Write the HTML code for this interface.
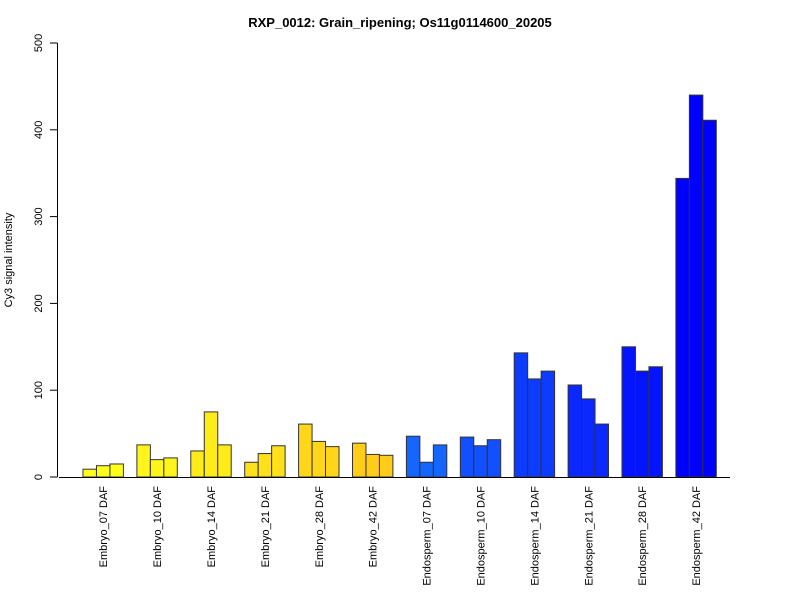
<!DOCTYPE html>
<html><head><meta charset="utf-8"><style>
body{margin:0;background:#fff;font-family:"Liberation Sans",Arial,sans-serif}
</style></head><body>
<svg id="c" width="800" height="600" xmlns="http://www.w3.org/2000/svg">
<text x="400" y="27" text-anchor="middle" font-size="13" font-weight="bold">RXP_0012: Grain_ripening; Os11g0114600_20205</text>
<text transform="translate(12,260) rotate(-90)" text-anchor="middle" font-size="11">Cy3 signal intensity</text>
<g id="bars"></g><g id="axes"></g>
</svg>
<script>
const categories=["Embryo_07 DAF","Embryo_10 DAF","Embryo_14 DAF","Embryo_21 DAF","Embryo_28 DAF","Embryo_42 DAF","Endosperm_07 DAF","Endosperm_10 DAF","Endosperm_14 DAF","Endosperm_21 DAF","Endosperm_28 DAF","Endosperm_42 DAF"];
const rep1=[9,37,30,17,61,39,47,46,143,106,150,344];
const rep2=[13,20,75,27,41,26,17,36,113,90,122,440];
const rep3=[15,22,37,36,35,25,37,43,122,61,127,411];
const colors=["#FFFF1A","#FFF51A","#FFEB1A","#FFE01A","#FFD61A","#FFCC1A","#1466FF","#1250FF","#0E3CFF","#0A28FF","#0514FF","#0000FF"];
const yTicks=[0,100,200,300,400,500];
const NS="http://www.w3.org/2000/svg";
const y=v=>477-v*0.868;
const bw=13.47, gx=i=>83+i*53.9;
const bars=document.getElementById('bars'), axes=document.getElementById('axes');
function mk(tag,attrs,parent){const e=document.createElementNS(NS,tag);for(const k in attrs)e.setAttribute(k,attrs[k]);parent.appendChild(e);return e;}
const series=[rep1,rep2,rep3];
categories.forEach((c,i)=>{
  series.forEach((s,j)=>{
    const r=mk('rect',{x:gx(i)+j*bw,y:y(s[i]),width:bw,height:477-y(s[i]),fill:colors[i],stroke:'#333','stroke-width':1},bars);
    
    
  });
  const cx=gx(i)+1.5*bw;
  const t=mk('text',{transform:`translate(${cx+4},486) rotate(-90)`,'text-anchor':'end','font-size':11},axes);
  t.textContent=c;
  
  
});
const xl=mk('line',{x1:59,x2:730,y1:477.5,y2:477.5,stroke:'#000'},axes);


const yl=mk('line',{x1:57.5,x2:57.5,y1:y(0),y2:y(500),stroke:'#000'},axes);


yTicks.forEach(v=>{
  const tk=mk('line',{x1:50,x2:57.5,y1:y(v),y2:y(v),stroke:'#000'},axes);
  
  
  const t=mk('text',{transform:`translate(42,${y(v)}) rotate(-90)`,'text-anchor':'middle','font-size':11},axes);
  t.textContent=v;
  
  
});
</script>
</body></html>
